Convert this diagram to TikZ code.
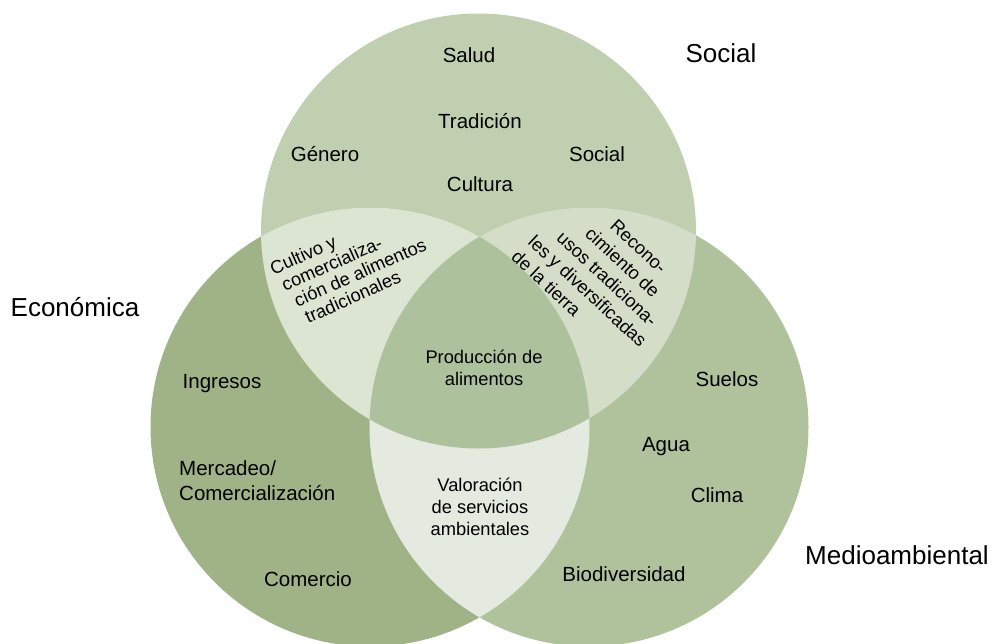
\documentclass[tikz,border=0pt]{standalone}
\usepackage{fontspec}
\setmainfont{Liberation Sans}
\definecolor{topc}{RGB}{192,207,175}
\definecolor{leftc}{RGB}{159,179,134}
\definecolor{rightc}{RGB}{175,194,156}
\definecolor{tlc}{RGB}{220,228,210}
\definecolor{trc}{RGB}{212,221,199}
\definecolor{lrc}{RGB}{228,234,223}
\definecolor{cc}{RGB}{174,193,157}
\tikzset{
  lab/.style={inner sep=0pt, font=\fontsize{20.5}{25}\selectfont, text=black},
  inlab/.style={inner sep=0pt, font=\fontsize{18.3}{21.8}\selectfont, text=black, align=center},
  ttl/.style={inner sep=0pt, font=\fontsize{26}{30}\selectfont, text=black},
}
\begin{document}
\begin{tikzpicture}[x=1pt,y=-1pt]
\useasboundingbox (0,0) rectangle (993,643);
\clip (0,0) rectangle (993,643);
\coordinate (T) at (478.5,231);
\coordinate (L) at (370,427);
\coordinate (R) at (589,427);
\def\rT{217.5pt}
\def\rL{219.5pt}
\def\rR{219.5pt}
% base circles
\fill[topc] (T) circle[radius=\rT];
\fill[leftc] (L) circle[radius=\rL];
\fill[rightc] (R) circle[radius=\rR];
% pairwise intersections
\begin{scope}
  \clip (T) circle[radius=\rT];
  \fill[tlc] (L) circle[radius=\rL];
  \fill[trc] (R) circle[radius=\rR];
\end{scope}
\begin{scope}
  \clip (L) circle[radius=\rL];
  \fill[lrc] (R) circle[radius=\rR];
\end{scope}
% triple intersection
\begin{scope}
  \clip (T) circle[radius=\rT];
  \clip (L) circle[radius=\rL];
  \fill[cc] (R) circle[radius=\rR];
\end{scope}
% titles
\node[ttl] (tsoc) at (721,53) {Social};
\node[ttl] (teco) at (75,307) {Económica};
\node[ttl] (tmed) at (897,555) {Medioambiental};
% social circle labels
\node[lab] (salud) at (469,55) {Salud};
\node[lab] (trad) at (480,121) {Tradición};
\node[lab] (gen) at (325,154) {Género};
\node[lab] (soc) at (597,154) {Social};
\node[lab] (cult) at (480,184) {Cultura};
% economic circle labels
\node[lab] (ingr) at (222,384) {Ingresos};
\node[lab, align=left, anchor=west] (merc) at (179,481) {Mercadeo/\\Comercialización};
\node[lab] (comer) at (308,579) {Comercio};
% environmental circle labels
\node[lab] (suel) at (727,379) {Suelos};
\node[lab] (agua) at (666,447) {Agua};
\node[lab] (clim) at (717,495) {Clima};
\node[lab] (biod) at (624,574) {Biodiversidad};
% intersections
\node[inlab] (prod) at (484,368) {Producción de\\alimentos};
\node[inlab, font=\fontsize{18.3}{22.3}\selectfont] (valo) at (480,507) {Valoración\\de servicios\\ambientales};
\node[inlab, align=left, anchor=north west, rotate=24, font=\fontsize{18.3}{19.5}\selectfont] (cult2) at (268,263)
  {Cultivo y\\\hspace*{4pt}comercializa-\\\hspace*{9pt}ción de alimentos\\\hspace*{12pt}tradicionales};
\node[inlab, align=left, anchor=north west, rotate=-43, font=\fontsize{18.3}{22.5}\selectfont] (reco) at (580.3,183.2)
  {\hspace*{51pt}Recono-\\\hspace*{38pt}cimiento de\\\hspace*{20pt}usos tradiciona-\\\hspace*{2pt}les y diversificadas\\de la tierra};
\end{tikzpicture}
\end{document}
